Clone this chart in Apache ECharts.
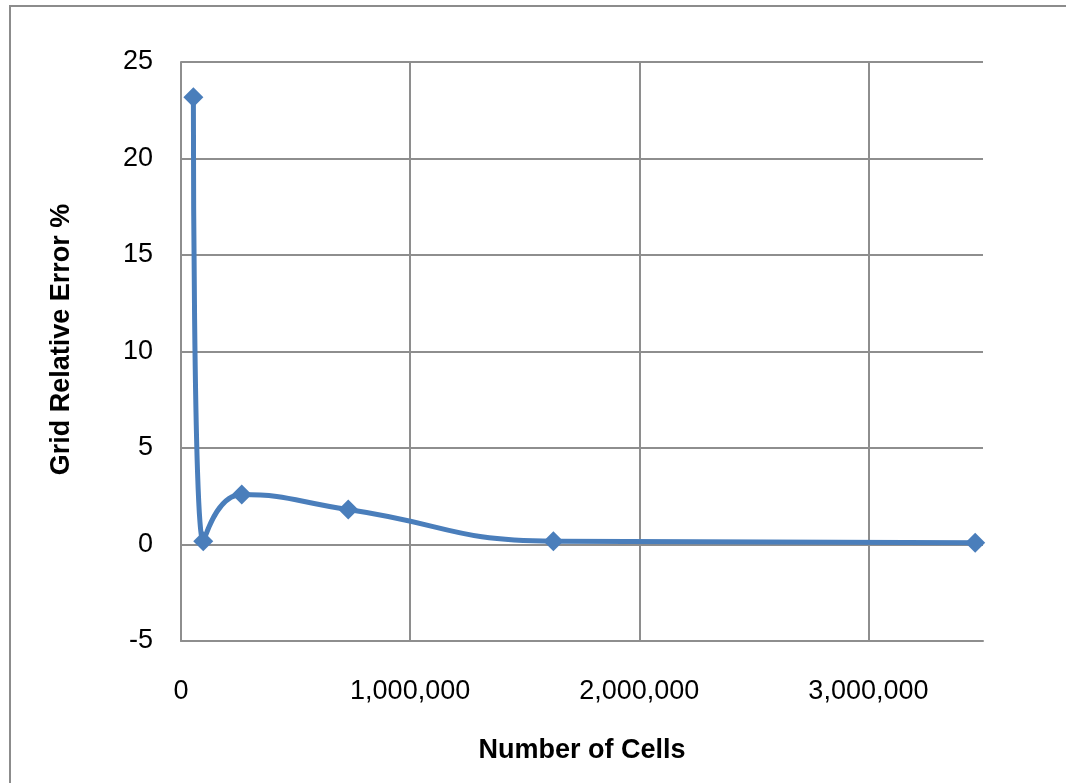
<!DOCTYPE html>
<html>
<head>
<meta charset="utf-8">
<script src="https://cdn.jsdelivr.net/npm/echarts@6/dist/echarts.min.js"></script>
<style>
  html, body { margin: 0; padding: 0; background: #fff; }
  #chart { width: 1066px; height: 783px; }
</style>
</head>
<body>
<div id="chart"></div>
<script>
const cells = [54000, 97000, 265000, 730000, 1625000, 3466000];
const errorPct = [23.18, 0.17, 2.59, 1.81, 0.17, 0.09];

const lineColor = '#4a7ebb';
const gridColor = '#8e8e8e';
const font = '"Liberation Sans", Arial, sans-serif';

function fmtThousands(v) {
  return String(v).replace(/\B(?=(\d{3})+(?!\d))/g, ',');
}

document.addEventListener('DOMContentLoaded', function () {
    var myChart = echarts.init(document.getElementById('chart'));
    var points = [];
    for (let i = 0; i < cells.length; i++) {
        points.push([cells[i], errorPct[i]]);
    }

    var option = {
        animation: false,
        backgroundColor: '#fff',
        graphic: [
            {
                type: 'rect',
                shape: { x: 10, y: 6, width: 1100, height: 820 },
                style: { fill: 'none', stroke: '#8c8c8c', lineWidth: 2 },
                z: -1
            }
        ],
        grid: {
            left: 181,
            right: 83,
            top: 62,
            bottom: 142
        },
        xAxis: {
            type: 'value',
            min: 0,
            max: 3500000,
            interval: 1000000,
            name: 'Number of Cells',
            nameLocation: 'middle',
            nameGap: 96,
            nameTextStyle: { fontFamily: font, fontSize: 27, fontWeight: 'bold', color: '#000' },
            axisLine: { onZero: false, lineStyle: { color: gridColor, width: 2 } },
            axisTick: { show: false },
            axisLabel: {
                fontFamily: font, fontSize: 27, color: '#000', margin: 37,
                showMaxLabel: false,
                formatter: function (v) { return v >= 3500000 ? '' : fmtThousands(v); }
            },
            splitLine: { show: true, showMaxLine: false, lineStyle: { color: gridColor, width: 2 } }
        },
        yAxis: {
            type: 'value',
            min: -5,
            max: 25,
            interval: 5,
            name: 'Grid Relative Error %',
            nameLocation: 'middle',
            nameGap: 106,
            nameTextStyle: {
                fontFamily: font, fontSize: 27, fontWeight: 'bold', color: '#000',
                padding: [0, 0, 0, 24]
            },
            axisLine: { show: true, lineStyle: { color: gridColor, width: 2 } },
            axisTick: { show: false },
            axisLabel: { fontFamily: font, fontSize: 27, color: '#000', margin: 28 },
            splitLine: { show: true, lineStyle: { color: gridColor, width: 2 } }
        },
        series: [
            {
                type: 'line',
                data: points,
                smooth: 0.5,
                symbol: 'diamond',
                symbolSize: 20,
                lineStyle: { color: lineColor, width: 5 },
                itemStyle: { color: lineColor }
            }
        ]
    };

    myChart.setOption(option);
});
</script>
</body>
</html>
